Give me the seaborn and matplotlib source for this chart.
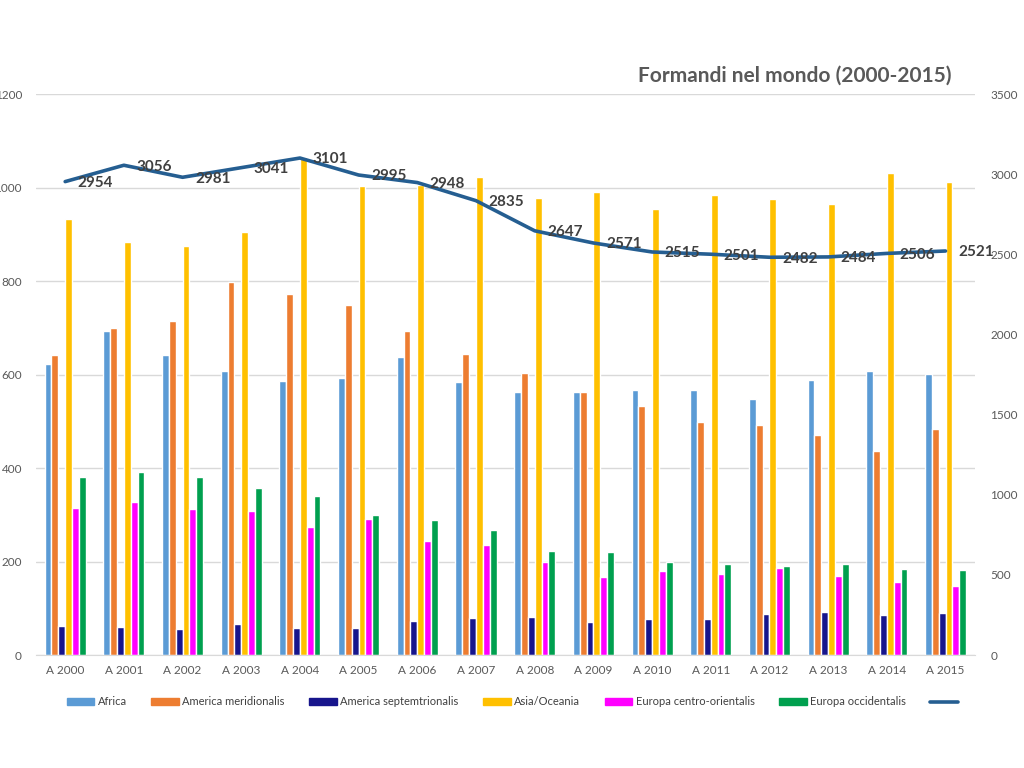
import numpy as np
import pandas as pd
import matplotlib
matplotlib.use('Agg')
import matplotlib.pyplot as plt
import seaborn as sns

# Data
years = ['A 2000', 'A 2001', 'A 2002', 'A 2003', 'A 2004', 'A 2005', 'A 2006', 'A 2007',
         'A 2008', 'A 2009', 'A 2010', 'A 2011', 'A 2012', 'A 2013', 'A 2014', 'A 2015']
africa = [622, 694, 641, 608, 586, 593, 637, 584, 563, 562, 568, 568, 547, 588, 607, 602]
america_mer = [641, 699, 715, 798, 772, 748, 693, 644, 603, 562, 532, 499, 493, 471, 436, 483]
america_sept = [62, 61, 55, 66, 59, 59, 73, 80, 81, 71, 77, 78, 88, 92, 85, 90]
asia_oceania = [933, 883, 875, 905, 1065, 1003, 1005, 1022, 978, 990, 955, 985, 975, 965, 1032, 1012]
europa_co = [314, 327, 312, 309, 275, 291, 244, 236, 200, 167, 180, 174, 186, 169, 157, 148]
europa_occ = [380, 392, 382, 358, 340, 299, 288, 267, 222, 220, 200, 194, 191, 194, 184, 182]
totals = [2954, 3056, 2981, 3041, 3101, 2995, 2948, 2835, 2647, 2571, 2515, 2501, 2482, 2484, 2506, 2521]

regions = ['Africa', 'America meridionalis', 'America septemtrionalis', 'Asia/Oceania',
           'Europa centro-orientalis', 'Europa occidentalis']
colors = ['#5B9BD5', '#ED7D31', '#17158C', '#FFC000', '#FF00FF', '#00A04F']

series = [africa, america_mer, america_sept, asia_oceania, europa_co, europa_occ]
df = pd.DataFrame({
    'Anno': years * len(regions),
    'Regione': np.repeat(regions, len(years)),
    'Valore': np.concatenate(series),
})

sns.set_style('white')
plt.rcParams['font.family'] = ['Lato', 'DejaVu Sans']

fig = plt.figure(figsize=(10.24, 7.68), dpi=100)
ax = fig.add_axes([0.035, 0.147, 0.917, 0.7305])

sns.barplot(data=df, x='Anno', y='Valore', hue='Regione', palette=colors,
            width=0.7, saturation=1, ax=ax, legend=False)

ax.set_xlim(-0.5, 15.5)
ax.set_ylim(0, 1200)
ax.set_yticks(range(0, 1201, 200))
ax.yaxis.grid(True, color='#D9D9D9', linewidth=1)
ax.set_axisbelow(True)
for s in ['top', 'right', 'left']:
    ax.spines[s].set_visible(False)
ax.spines['bottom'].set_color('#D9D9D9')
ax.set_xlabel('')
ax.set_ylabel('')
ax.tick_params(axis='y', length=0, pad=10, labelsize=8.5, labelcolor='#595959')
ax.tick_params(axis='x', length=0, pad=7, labelsize=8.5, labelcolor='#595959')

# Total line on secondary axis
ax2 = ax.twinx()
sns.lineplot(x=np.arange(len(years)), y=totals, ax=ax2, color='#255E91', linewidth=2.6)
ax2.set_ylim(0, 3500)
ax2.set_yticks(range(0, 3501, 500))
for s in ['top', 'right', 'left', 'bottom']:
    ax2.spines[s].set_visible(False)
ax2.tick_params(axis='y', length=0, pad=11, labelsize=8.5, labelcolor='#595959')
ax2.set_ylabel('')

for i, t in enumerate(totals):
    ax2.annotate(str(t), (i, t), xytext=(9, -1), textcoords='offset points',
                 ha='left', va='center', fontsize=11, fontweight='bold', color='#404040')

fig.text(0.776, 0.901, 'Formandi nel mondo (2000-2015)', ha='center', va='center',
         fontsize=15, fontweight='bold', color='#595959')

# Legend
handles = [matplotlib.patches.Patch(color=c) for c in colors]
handles.append(matplotlib.lines.Line2D([], [], color='#255E91', linewidth=2.6))
labels = regions + ['']
fig.legend(handles, labels, loc='center', bbox_to_anchor=(0.502, 0.086), ncol=7,
           frameon=False, fontsize=8, handlelength=2.5, handleheight=0.6,
           columnspacing=2.2, handletextpad=0.3, labelcolor='#404040')

fig.savefig('out.png', dpi=100)
